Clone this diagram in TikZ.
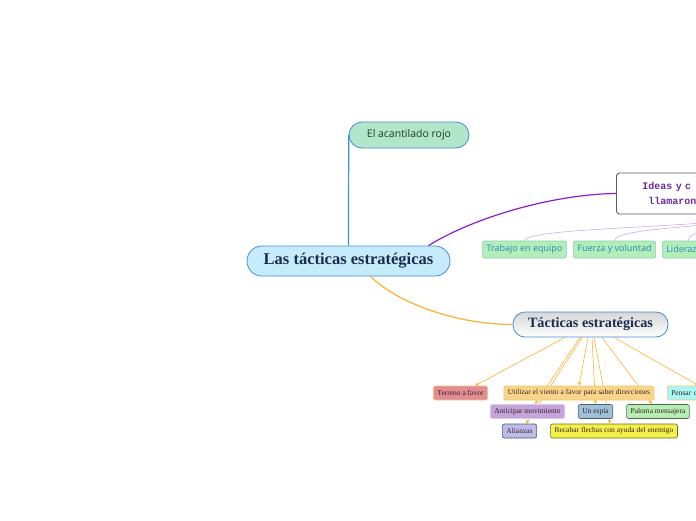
\documentclass[tikz,border=0pt]{standalone}
\usepackage{fontspec}
\setmainfont{Liberation Serif}
\setmonofont{Liberation Mono}
\newfontfamily\opensans{Open Sans}
\usetikzlibrary{calc,arrows.meta}
\pgfdeclarelayer{bg}
\pgfsetlayers{bg,main}

\definecolor{mapblue}{HTML}{3F8ED8}
\definecolor{mapnavy}{HTML}{1C2C4E}
\definecolor{mainfill}{HTML}{C6EBFA}
\definecolor{acantfill}{HTML}{B2E6CA}
\definecolor{acanttext}{HTML}{1E3A2C}
\definecolor{ideaborder}{HTML}{5A5F66}
\definecolor{ideatext}{HTML}{6B2C98}
\definecolor{mappurple}{HTML}{8A1ECF}
\definecolor{lightpurple}{HTML}{C99CEE}
\definecolor{greenfill}{HTML}{B3EEB8}
\definecolor{greenborder}{HTML}{88CFB4}
\definecolor{greentext}{HTML}{2488B8}
\definecolor{maporange}{HTML}{FDB22B}
\definecolor{leaftext}{HTML}{3A2222}
\definecolor{terrfill}{HTML}{E28C96}
\definecolor{vienfill}{HTML}{F9D58C}
\definecolor{pensfill}{HTML}{A8F7F4}
\definecolor{antifill}{HTML}{C4A4D9}
\definecolor{espifill}{HTML}{9EC0D8}
\definecolor{palofill}{HTML}{B5EEB3}
\definecolor{aliafill}{HTML}{BDBDEB}
\definecolor{recafill}{HTML}{F4F04A}
\definecolor{softorange}{HTML}{F7C46E}

\tikzset{
  topic/.style={draw=mapblue,line width=0.8pt,text=mapnavy},
  idea/.style={anchor=west,draw=ideaborder,fill=white,line width=0.9pt,rounded corners=3,
    text width=216,inner xsep=26,minimum height=41,align=left,text=ideatext,
    font=\ttfamily\bfseries\fontsize{10}{15}\selectfont},
  quality/.style={draw=greenborder,fill=greenfill,line width=0.6pt,rounded corners=2,
    minimum height=17,inner xsep=4,text=greentext,font=\opensans\fontsize{9}{10}\selectfont},
  leaf/.style={draw,line width=0.6pt,rounded corners=2,minimum height=14,inner xsep=4,
    inner ysep=1,text=leaftext,font=\fontsize{7.5}{8}\selectfont},
  link/.style={->,draw=maporange,line width=0.6pt},
}

\begin{document}
\begin{tikzpicture}[x=1pt,y=-1pt,>={Latex[length=3.5pt,width=3.5pt]}]
  \path[use as bounding box] (0,0) rectangle (696,520);
  \clip (0,0) rectangle (696,520);
  % central topic and main branches
  \node[topic,fill=mainfill,minimum width=203,minimum height=30,rounded corners=15,
    font=\fontsize{16.5}{18}\selectfont\bfseries] (main) at (348.5,261) {Las tácticas estratégicas};
  \node[topic,fill=acantfill,minimum width=120,minimum height=26,rounded corners=13,
    text=acanttext,font=\opensans\fontsize{10.5}{12}\selectfont] (acant) at (409,135) {El acantilado rojo};
  \node[idea] (ideas) at (616,193.5) {Ideas y c\\\phantom{l}llamaron};
  \node[topic,top color=black!16,bottom color=white,minimum width=155,minimum height=25,
    rounded corners=12,font=\fontsize{14.2}{16}\selectfont\bfseries] (tac) at (590.5,324.5) {Tácticas estratégicas};
  % qualities
  \node[quality] (trab) at (524.5,249.5) {Trabajo en equipo};
  \node[quality] (fuer) at (614.5,249.5) {Fuerza y voluntad};
  \node[quality,anchor=west,text width=44,align=left] (lider) at (662,249.5) {Lideraz};
  % tactics
  \node[leaf,draw=softorange,fill=terrfill] (terr) at (460.5,393) {Terreno a favor};
  \node[leaf,draw=softorange,fill=vienfill] (vien) at (579,393) {Utilizar el viento a favor para saber direcciones};
  \node[leaf,draw=softorange,fill=pensfill,anchor=west,text width=55,align=left] (pens) at (667,393) {Pensar c};
  \node[leaf,draw=antifill!60,fill=antifill] (anti) at (527.5,411.5) {Anticipar movimiento};
  \node[leaf,draw=espifill!50!black,fill=espifill] (espi) at (595.5,411.5) {Un espía};
  \node[leaf,draw=palofill!45!black,fill=palofill] (palo) at (658,411.5) {Paloma mensajera};
  \node[leaf,draw=aliafill!45!black,fill=aliafill] (alia) at (519.5,431) {Alianzas};
  \node[leaf,draw=recafill!45!black,fill=recafill] (reca) at (614,431) {Recabar flechas con ayuda del enemigo};
  \begin{pgfonlayer}{bg}
    \clip (0,0) rectangle (696,520);
    \draw[mapblue,line width=1.2pt] (main.north) .. controls (348.5,160) and (349,140) .. (acant.west);
    \draw[mappurple,line width=1.2pt] ([xshift=-22pt]main.north east) .. controls (480,214) and (560,194) .. (ideas.west);
    \draw[maporange,line width=1.2pt] ([xshift=22pt]main.south) .. controls (400,305) and (460,324.5) .. (tac.west);
    \draw[lightpurple,line width=0.5pt] (ideas.south) .. controls (740,228) and (528,226) .. (trab.north);
    \draw[lightpurple,line width=0.5pt] (ideas.south) .. controls (740,228) and (616,226) .. (fuer.north);
    \draw[lightpurple,line width=0.5pt] (ideas.south) .. controls (740,226) and (688,228) .. (lider.north);
    \draw[link] ([xshift=-25.5pt]tac.south) -- ([xshift=14.5pt]terr.north);
    \draw[link] ([xshift=-10.5pt]tac.south) -- ([xshift=7.5pt]anti.north);
    \draw[link] ([xshift=-8.5pt]tac.south) -- ([xshift=6.5pt]alia.north);
    \draw[link] ([xshift=-2.5pt]tac.south) -- (vien.north);
    \draw[link] ([xshift=1.5pt]tac.south) -- (espi.north);
    \draw[link] ([xshift=3.5pt]tac.south) -- ([xshift=-4pt]reca.north);
    \draw[link] ([xshift=11.5pt]tac.south) -- ([xshift=-6pt]palo.north);
    \draw[link] ([xshift=23.5pt]tac.south) -- (pens.north);
  \end{pgfonlayer}
\end{tikzpicture}
\end{document}
